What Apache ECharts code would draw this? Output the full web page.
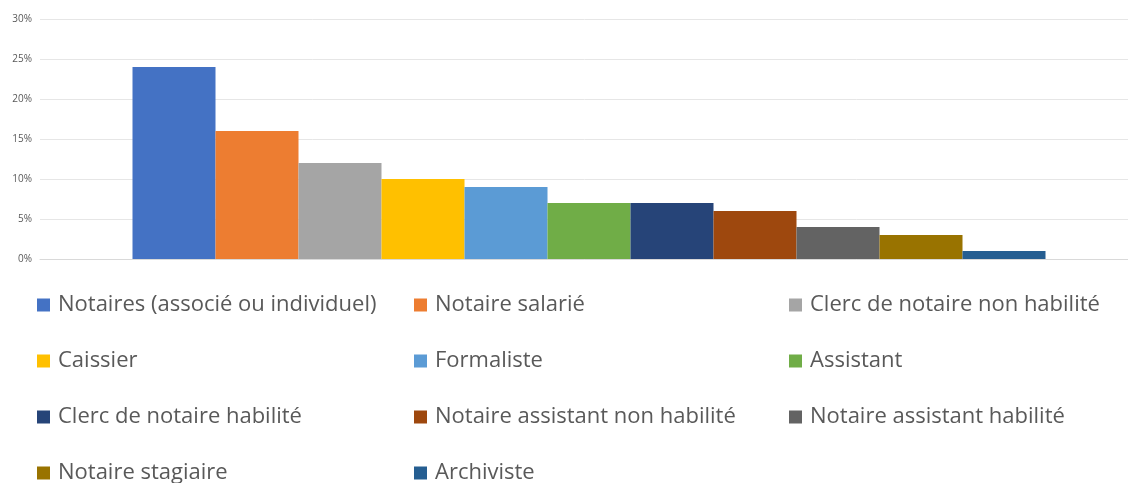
<!DOCTYPE html>
<html>
<head>
<meta charset="utf-8">
<title>Répartition des postes</title>
<script src="https://cdn.jsdelivr.net/npm/echarts@6/dist/echarts.min.js"></script>
<style>
  html, body { margin: 0; padding: 0; background: #fff; }
  #chart { width: 1128px; height: 483px; }
</style>
</head>
<body>
<div id="chart"></div>
<script>
// postes (une série par poste, une seule catégorie)
const postes = [
  "Notaires (associé ou individuel)",
  "Notaire salarié",
  "Clerc de notaire non habilité",
  "Caissier",
  "Formaliste",
  "Assistant",
  "Clerc de notaire habilité",
  "Notaire assistant non habilité",
  "Notaire assistant habilité",
  "Notaire stagiaire",
  "Archiviste"
];
// parts en %
const parts = [24, 16, 12, 10, 9, 7, 7, 6, 4, 3, 1];
const couleurs = [
  "#4472c4", "#ed7d31", "#a5a5a5", "#ffc000", "#5b9bd5", "#70ad47",
  "#264478", "#9e480e", "#636363", "#997300", "#255e91"
];
const yTicks = [0, 5, 10, 15, 20, 25, 30];

const chart = echarts.init(document.getElementById("chart"));

const series = postes.map((nom, i) => ({
  name: nom,
  type: "bar",
  data: [parts[i]],
  barWidth: 83,
  barGap: "0%",
  itemStyle: { color: couleurs[i] }
}));

// légende en 3 colonnes
const colX = [37, 414, 789];
const legends = colX.map((x, c) => ({
  orient: "vertical",
  left: x,
  top: 293,
  height: 260,
  padding: 0,
  itemWidth: 13,
  itemHeight: 13,
  itemGap: 32,
  icon: "rect",
  selectedMode: false,
  data: postes.filter((_, i) => i % 3 === c),
  textStyle: {
    fontFamily: "Open Sans",
    fontSize: 22,
    lineHeight: 24,
    color: "#595959",
    padding: [0, 0, 0, 3]
  }
}));

chart.setOption({
  animation: false,
  grid: { left: 40, right: -10, top: 19, height: 240, outerBoundsMode: "none" },
  xAxis: {
    type: "category",
    data: [""],
    axisLine: { show: true, lineStyle: { color: "#d9d9d9" } },
    axisTick: { show: false },
    axisLabel: { show: false }
  },
  yAxis: {
    type: "value",
    min: yTicks[0],
    max: yTicks[yTicks.length - 1],
    interval: 5,
    axisLine: { show: false },
    axisTick: { show: false },
    splitLine: { lineStyle: { color: "#e6e6e6" } },
    axisLabel: {
      formatter: "{value}%",
      fontFamily: "Open Sans",
      fontSize: 10,
      color: "#595959",
      margin: 8
    }
  },
  legend: legends,
  series: series
});
</script>
</body>
</html>
